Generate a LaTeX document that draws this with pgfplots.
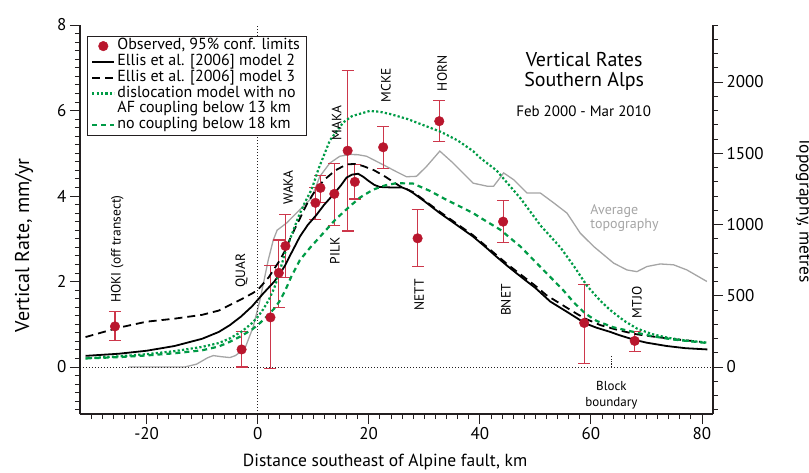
\documentclass[border=0pt]{standalone}
\usepackage{fontspec}
\setmainfont{PT Sans}
\usepackage{pgfplots}
\usepackage{pgfplotstable}
\pgfplotsset{compat=1.18}

\definecolor{obsred}{RGB}{185,22,45}
\definecolor{barred}{RGB}{205,55,75}
\definecolor{modgreen}{RGB}{0,155,70}
\definecolor{topogray}{RGB}{165,165,165}
\definecolor{axisblack}{RGB}{35,31,32}

% observed vertical rates, 95% limits (up / down)
\pgfplotstableread{
x     y     up    dn
-25.7 0.95  0.34  0.32
-2.9  0.41  0.43  0.41
2.3   1.16  1.21  1.19
3.8   2.20  0.77  0.80
5.0   2.83  0.73  0.73
10.4  3.84  0.36  0.38
11.3  4.19  0.29  0.34
13.8  4.05  0.72  0.74
16.2  5.06  1.87  1.88
17.5  4.33  0.40  0.40
22.6  5.14  0.49  0.50
28.8  3.01  0.68  0.66
32.7  5.75  0.49  0.47
44.2  3.40  0.49  0.49
58.8  1.03  0.90  0.94
67.9  0.61  0.23  0.24
}\obsdata

\newcommand{\sta}[3]{\node[rotate=90,anchor=west,inner sep=0pt,font=\fontsize{13.5}{13.5}\selectfont] at (axis cs:#1,#2) {#3};}

\begin{document}
\begin{tikzpicture}
% ---- topography (right axis) ----
\begin{axis}[
    scale only axis, width=633pt, height=389pt,
    xmin=-32, xmax=82, ymin=-330, ymax=2400,
    axis x line=none, axis y line*=right,
    ytick={0,500,...,2000}, minor ytick={-300,-200,...,2400},
    tick align=outside, major tick length=10pt, minor tick length=5pt,
    tick style={axisblack, line width=0.8pt},
    axis line style={axisblack, line width=1.1pt},
    /pgf/number format/assume math mode=true,
    /pgf/number format/1000 sep={},
    ticklabel style={font=\fontsize{17}{17}\selectfont},
    ylabel={Topography, metres},
    ylabel style={at={(axis description cs:1.1437,0.5244)}, anchor=center, rotate=180, font=\fontsize{17.5}{17.5}\selectfont},
    clip=false,
  ]
  \addplot[topogray, line width=1.3pt] coordinates {
    (-23.3,0) (-13.1,0) (-11,20) (-9,65) (-8,80) (-6.5,72) (-5,66) (-4,80)
    (-3,110) (-2.3,130) (-0.8,282) (0.4,468) (1.9,750) (2.8,890) (3.5,960)
    (5.2,1010) (7.6,1105) (9.7,1185) (11.2,1338) (13,1431) (14.8,1479)
    (16.6,1491) (18,1490) (19.6,1479) (20.8,1455) (23.2,1407) (25,1370)
    (26.8,1335) (28.6,1338) (30.4,1407) (32.8,1515) (35.2,1431) (38.8,1290)
    (41.3,1269) (42.5,1269) (44.3,1362) (46.1,1314) (48.5,1221) (50.9,1221)
    (53.3,1152) (55.7,1080) (58.1,939) (60.5,846) (64.1,729) (66.5,681)
    (68.3,669) (70.1,705) (72.5,723) (74.9,717) (77.3,681) (80.9,600)
  };
\end{axis}

% ---- vertical rates (left axis) ----
\begin{axis}[
    scale only axis, width=633pt, height=389pt,
    xmin=-32, xmax=82, ymin=-1.1, ymax=8,
    axis x line*=bottom, axis y line*=left,
    xtick={-20,0,...,80}, minor xtick={-30,-28,...,80},
    ytick={0,2,...,8}, minor ytick={-1,-0.8,...,8},
    tick align=outside, major tick length=10pt, minor tick length=5pt,
    tick style={axisblack, line width=0.8pt},
    axis line style={axisblack, line width=1.1pt},
    /pgf/number format/assume math mode=true,
    ticklabel style={font=\fontsize{17}{17}\selectfont},
    xlabel={Distance southeast of Alpine fault, km},
    xlabel style={at={(axis description cs:0.482,-0.1234)}, anchor=center, font=\fontsize{17.5}{17.5}\selectfont},
    ylabel={Vertical Rate, mm/yr},
    ylabel style={at={(axis description cs:-0.0885,0.434)}, anchor=center, font=\fontsize{20}{20}\selectfont},
    clip=false,
    legend image code/.code={\draw[mark repeat=2, mark phase=2, #1] plot coordinates {(0pt,0pt) (11pt,0pt) (22pt,0pt)};},
    legend cell align=left,
    legend style={at={(axis description cs:0,1)}, anchor=north west, xshift=7pt, yshift=-11pt,
      draw=axisblack, font=\fontsize{16}{16}\selectfont,
      row sep=0pt, inner xsep=4pt, inner ysep=2pt,
      nodes={text height=10.5pt, text depth=3.5pt, inner ysep=0.9pt}},
  ]
  % reference lines
  \addplot[axisblack, line width=0.6pt, dash pattern=on 1pt off 2pt, forget plot] coordinates {(-32,0) (82,0)};
  \addplot[axisblack, line width=0.6pt, dash pattern=on 1pt off 2pt, forget plot] coordinates {(0,-1.1) (0,8)};
  \addplot[axisblack, line width=1.4pt, dash pattern=on 1.2pt off 1.2pt, forget plot] coordinates {(63.7,0) (63.7,0.28)};

  % observations
  \addplot[only marks, mark=*, mark size=4.8pt, color=obsred,
    error bars/.cd, y dir=both, y explicit, error mark=-,
    error bar style={barred, line width=1.1pt},
    error mark options={rotate=90, barred, line width=1.1pt, mark size=6pt}]
    table[x=x, y=y, y error plus=up, y error minus=dn] {\obsdata};
  \addlegendentry{Observed, 95\% conf. limits}

  % Ellis et al. model 2
  \addplot[black, line width=1.8pt] coordinates {
    (-31,0.26) (-25,0.31) (-20,0.38) (-15,0.49) (-10,0.66) (-7,0.82) (-5,0.98)
    (-3,1.18) (-1,1.42) (0,1.57) (1,1.72) (2,1.86) (3,2.0) (4,2.18) (5,2.39)
    (6,2.65) (7.6,3.05) (9,3.32) (10.6,3.56) (12,3.8) (13.6,4.03) (15,4.25)
    (16,4.43) (17,4.5) (18.1,4.52) (19,4.45) (20,4.35) (21,4.26) (22,4.21)
    (24,4.2) (26,4.2) (27,4.15) (28,4.07) (30,3.88) (32.8,3.6) (35,3.4)
    (38.8,3.05) (41,2.81) (43,2.58) (45,2.36) (48,2.05) (50,1.85) (52.7,1.53)
    (55.7,1.29) (59,1.02) (61,0.92) (63.5,0.82) (65,0.75) (67.7,0.64)
    (70,0.57) (73.7,0.49) (77,0.44) (81,0.41)
  };
  \addlegendentry{Ellis et al. [2006] model 2}

  % Ellis et al. model 3
  \addplot[black, line width=1.8pt, dash pattern=on 8pt off 5pt] coordinates {
    (-31,0.7) (-25,0.92) (-20,1.06) (-15,1.13) (-10,1.22) (-7,1.32) (-5,1.45)
    (-3,1.58) (-1,1.72) (0,1.8) (1,1.95) (2,2.1) (3,2.3) (4,2.5) (5,2.74)
    (6,3.05) (7.7,3.5) (9,3.85) (10.5,4.15) (12,4.38) (14,4.6) (16,4.74)
    (17.6,4.75) (19,4.7) (21,4.6) (23,4.45) (25.6,4.23) (27,4.15) (28,4.09)
    (30,3.9) (32.8,3.63) (35,3.43) (38.8,3.08) (43,2.62) (45,2.4) (48,2.1)
    (50,1.9) (52,1.68) (54.5,1.48) (57,1.28) (59,1.13) (61.7,0.98) (65,0.86)
    (68,0.77) (70.7,0.72) (75,0.65) (79.7,0.59)
  };
  \addlegendentry{Ellis et al. [2006] model 3}

  % dislocation model, no coupling below 13 km
  \addplot[modgreen, line width=2.2pt, dash pattern=on 2.2pt off 2.2pt] coordinates {
    (-31,0.2) (-25,0.25) (-20,0.3) (-15,0.37) (-10,0.47) (-7,0.56) (-5,0.67)
    (-3,0.82) (-2,0.92) (-1,1.03) (0,1.17) (1,1.35) (2,1.57) (3,1.85) (4,2.25)
    (5,2.7) (6,3.05) (7.3,3.5) (8.5,3.85) (9.7,4.15) (11,4.65) (13,5.3)
    (15.4,5.72) (17,5.87) (20.2,5.99) (22,5.97) (23.8,5.92) (27,5.8)
    (30.4,5.63) (33,5.5) (36,5.3) (38.8,5.05) (40,4.9) (43,4.6) (47.3,3.95)
    (51,3.3) (54.5,2.8) (57,2.35) (59.3,1.9) (61.7,1.55) (63.5,1.33)
    (66,1.08) (68.3,0.9) (71,0.77) (74,0.68) (77,0.62) (81,0.57)
  };
  \addlegendentry{dislocation model with no}
  \addlegendimage{empty legend}
  \addlegendentry{AF coupling below 13 km}

  % no coupling below 18 km
  \addplot[modgreen, line width=2.2pt, dash pattern=on 5pt off 4pt] coordinates {
    (-31,0.2) (-25,0.23) (-20,0.27) (-15,0.32) (-10,0.39) (-7,0.48) (-5,0.59)
    (-3,0.72) (-1,0.88) (0,0.98) (1,1.1) (2,1.23) (3,1.37) (4,1.55) (5,1.8)
    (6,2.1) (7.6,2.5) (9.5,2.8) (11.8,3.13) (14,3.45) (16.6,3.76) (18.5,3.97)
    (20.8,4.15) (23,4.25) (25,4.3) (28,4.29) (31,4.12) (34,3.91) (36.5,3.75)
    (38.8,3.6) (40,3.5) (43.7,3.21) (47.3,2.82) (51,2.33) (55,1.8) (57,1.5)
    (59,1.25) (61,1.08) (64,0.93) (67.7,0.82) (71,0.72) (75,0.64) (81,0.56)
  };
  \addlegendentry{no coupling below 18 km}

  % station names
  \sta{-25.3}{1.5}{HOKI (off transect)}
  \sta{-2.9}{1.85}{QUAR}
  \sta{5.5}{3.79}{WAKA}
  \sta{13.9}{2.4}{PILK}
  \sta{14.2}{5.3}{MAKA}
  \sta{23.1}{6.19}{MCKE}
  \sta{33.2}{6.45}{HORN}
  \sta{29.1}{1.31}{NETT}
  \sta{44.7}{1.19}{BNET}
  \sta{68.3}{1.14}{MTJO}

  % titles and notes
  \node[anchor=base, font=\fontsize{20}{20}\selectfont] at (axis cs:58.8,7.04) {Vertical Rates};
  \node[anchor=base, font=\fontsize{20}{20}\selectfont] at (axis cs:58.8,6.57) {Southern Alps};
  \node[anchor=base, font=\fontsize{15}{15}\selectfont] at (axis cs:58.7,5.86) {Feb 2000 - Mar 2010};
  \node[anchor=base west, inner sep=0pt, text=topogray, font=\fontsize{14}{14}\selectfont] at (axis cs:59.9,3.56) {Average};
  \node[anchor=base west, inner sep=0pt, text=topogray, font=\fontsize{14}{14}\selectfont] at (axis cs:59.9,3.23) {topography};
  \node[anchor=base, font=\fontsize{13}{13}\selectfont] at (axis cs:63.7,-0.56) {Block};
  \node[anchor=base, font=\fontsize{13}{13}\selectfont] at (axis cs:63.7,-0.92) {boundary};
\end{axis}
\pgfresetboundingbox
\useasboundingbox (-80pt,-58pt) rectangle (729pt,414pt);
\end{tikzpicture}
\end{document}
